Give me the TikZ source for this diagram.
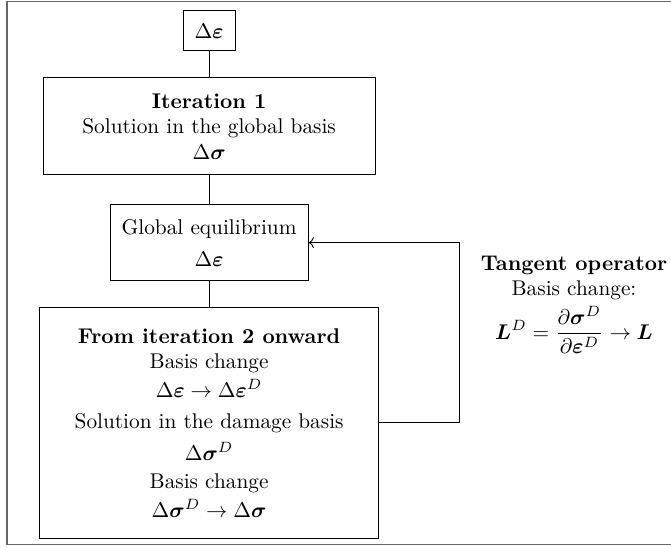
\documentclass[tikz,border=0pt]{standalone}
\usepackage{amsmath, amssymb}
\usepackage{bm}
\usepackage{tikz}
\usetikzlibrary{positioning, arrows.meta, calc}
\newcommand{\deps}{\Delta\bm{\varepsilon}}
\newcommand{\dsig}{\Delta\bm{\sigma}}

\begin{document}
\begin{tikzpicture}[
  node distance=0.43cm,
  box/.style={draw, minimum height=0.66cm, align=center, inner sep=2pt},
  >=To
]
  \useasboundingbox (0,0) rectangle (11.07,-9.04);

  % Outer frame
  \draw[black!60, semithick] (11.3,-0.025) -- (0.115,-0.025)
    -- (0.115,-8.98) -- (11.3,-8.98);

  % Top: strain increment
  \node[box, minimum width=0.86cm] (deps) at (3.45,-0.51) {$\deps$};

  % First iteration
  \node[box, below=0.43cm of deps, minimum width=5.48cm,
        minimum height=1.6cm] (iter1)
    {\textbf{Iteration 1}\\ Solution in the global basis\\ $\dsig$};

  % Equilibrium
  \node[box, below=0.48cm of iter1, minimum width=3.27cm,
        minimum height=1.25cm] (glob)
    {Global equilibrium\\[3pt] $\deps$};

  % Later iterations
  \node[box, below=0.43cm of glob, minimum width=5.59cm,
        minimum height=3.81cm] (onward)
    {\textbf{From iteration 2 onward}\\ Basis change\\[1.5pt]
     $\deps \to \deps^D$\\[2.4pt] Solution in the damage basis\\[3.3pt]
     $\dsig^D$\\[1pt] Basis change\\[1.7pt] $\dsig^D \to \dsig$};

  % Links
  \draw (deps) -- (iter1);
  \draw (iter1) -- (glob);
  \draw (glob) -- (onward);
  \draw[->] (onward.east) -- ++(1.32,0) |- (glob.east);

  % Side note
  \node[align=center] (tangent) at (9.47,-5.03)
    {\textbf{Tangent operator}\\ Basis change:\\[2pt]
     $\displaystyle \bm{L}^D = \frac{\partial\bm{\sigma}^D}
       {\partial\bm{\varepsilon}^D} \to \bm{L}$};
\end{tikzpicture}
\end{document}
